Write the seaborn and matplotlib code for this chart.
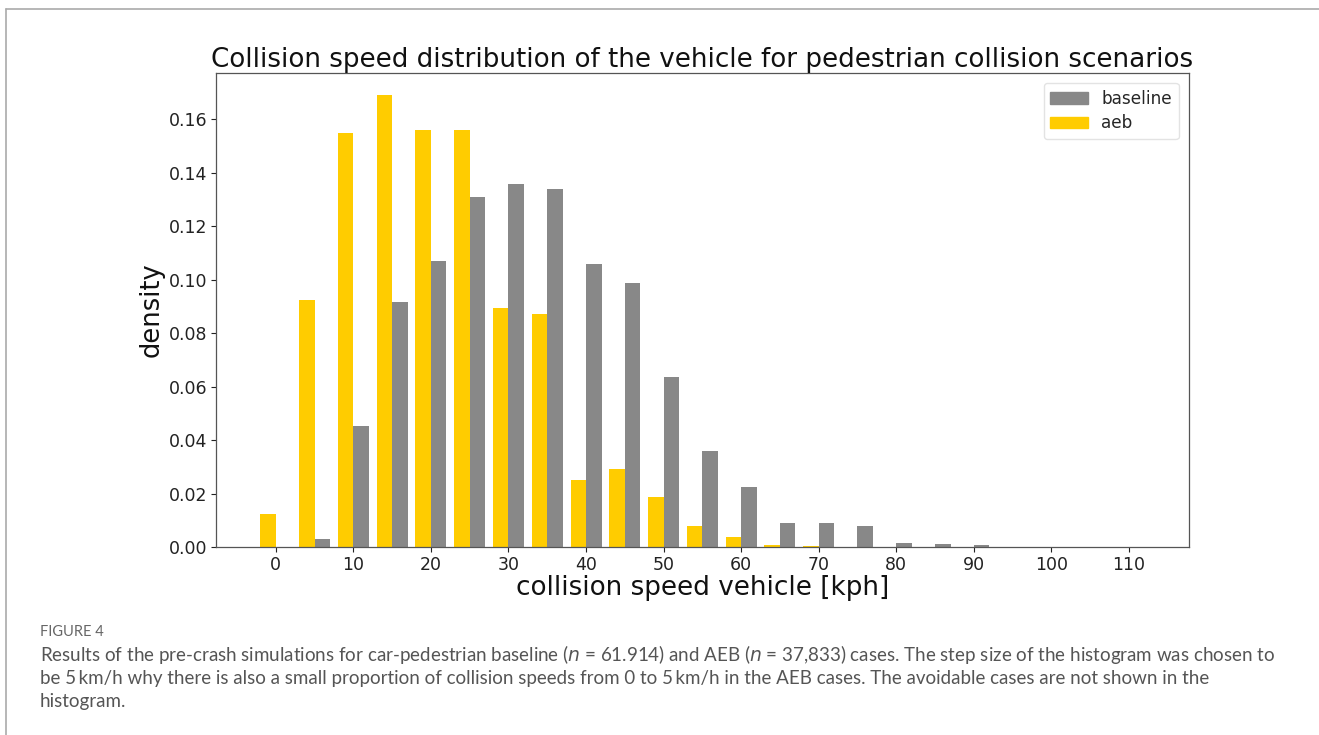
import matplotlib
matplotlib.use("Agg")
import matplotlib.pyplot as plt
import seaborn as sns
import pandas as pd
from matplotlib.lines import Line2D

# ---- data ----
speeds = [0, 5, 10, 15, 20, 25, 30, 35, 40, 45, 50, 55, 60, 65, 70, 75, 80, 85, 90, 95, 100, 105, 110]
aeb = [0.0123, 0.0923, 0.1549, 0.1690, 0.1560, 0.1560, 0.0893, 0.0871, 0.0250, 0.0290,
       0.0188, 0.0079, 0.0036, 0.0009, 0.0005, 0.0, 0.0, 0.0, 0.0, 0.0, 0.0, 0.0, 0.0]
baseline = [0.0, 0.0029, 0.0452, 0.0916, 0.1070, 0.1310, 0.1357, 0.1340, 0.1060, 0.0987,
            0.0636, 0.0359, 0.0225, 0.0088, 0.0088, 0.0080, 0.0014, 0.0011, 0.0007, 0.0, 0.0, 0.0, 0.0]
xticks = [0, 10, 20, 30, 40, 50, 60, 70, 80, 90, 100, 110]
yticks = [0.0, 0.02, 0.04, 0.06, 0.08, 0.10, 0.12, 0.14, 0.16]
title = "Collision speed distribution of the vehicle for pedestrian collision scenarios"
xlabel = "collision speed vehicle [kph]"
ylabel = "density"
caption_head = "FIGURE 4"
caption_lines = [
    "Results of the pre-crash simulations for car-pedestrian baseline ($n$ = 61.914) and AEB ($n$ = 37,833) cases. The step size of the histogram was chosen to",
    "be 5\u2009km/h why there is also a small proportion of collision speeds from 0 to 5\u2009km/h in the AEB cases. The avoidable cases are not shown in the",
    "histogram.",
]

df = pd.DataFrame({
    "speed": speeds * 2,
    "density": aeb + baseline,
    "group": ["aeb"] * len(speeds) + ["baseline"] * len(speeds),
})

sns.set_style("white")
plt.rcParams["font.family"] = ["DejaVu Sans"]

fig = plt.figure(figsize=(13.19, 7.35), dpi=100)
ax = fig.add_axes([0.1638, 0.2558, 0.9012 - 0.1638, 0.9011 - 0.2558])

palette = {"aeb": "#FFCC00", "baseline": "#888888"}
sns.barplot(data=df, x="speed", y="density", hue="group", hue_order=["aeb", "baseline"],
            order=speeds, palette=palette, width=0.8, saturation=1, linewidth=0,
            ax=ax, legend=False)

pos = [speeds.index(t) for t in xticks]
ax.set_xticks(pos)
ax.set_xticklabels([str(t) for t in xticks])
ax.set_xlim(-1.54, 23.54)
ax.set_ylim(0, 0.1775)
ax.set_yticks(yticks)
ax.set_yticklabels([f"{v:.2f}" for v in yticks])
ax.tick_params(axis="both", labelsize=12.5, length=3.5, width=0.8, colors="#222222", direction="out",
               bottom=True, left=True, pad=3)
for s in ax.spines.values():
    s.set_color("#555555")
    s.set_linewidth(0.9)
ax.set_xlabel(xlabel, fontsize=18.9, color="#111111", labelpad=1)
ax.set_ylabel(ylabel, fontsize=18.5, color="#111111", labelpad=3)
ax.set_title(title, fontsize=18.8, color="#111111", pad=4)

handles = [plt.Rectangle((0, 0), 1, 1, color=palette["baseline"]),
           plt.Rectangle((0, 0), 1, 1, color=palette["aeb"])]
leg = ax.legend(handles, ["baseline", "aeb"], loc="upper right", fontsize=12.2, frameon=True,
                borderpad=0.4, labelspacing=0.4, handlelength=2.2, handletextpad=0.8,
                borderaxespad=0.6)
leg.get_frame().set_edgecolor("#dddddd")

# border lines (top and left)
fig.add_artist(Line2D([0.0045, 1.0], [1 - 9 / 735, 1 - 9 / 735], color="#aaaaaa", lw=1.2, transform=fig.transFigure))
fig.add_artist(Line2D([6 / 1319, 6 / 1319], [0, 1 - 9 / 735], color="#aaaaaa", lw=1.2, transform=fig.transFigure))

fig.text(40 / 1319, 1 - 632 / 735, caption_head, fontsize=10.5, color="#666666", family="Lato", va="center")
for i, line in enumerate(caption_lines):
    fig.text(40 / 1319, 1 - (655 + 23.5 * i) / 735, line, fontsize=13.5, color="#555555", family="Lato", va="center")

fig.savefig("out.png", dpi=100)
